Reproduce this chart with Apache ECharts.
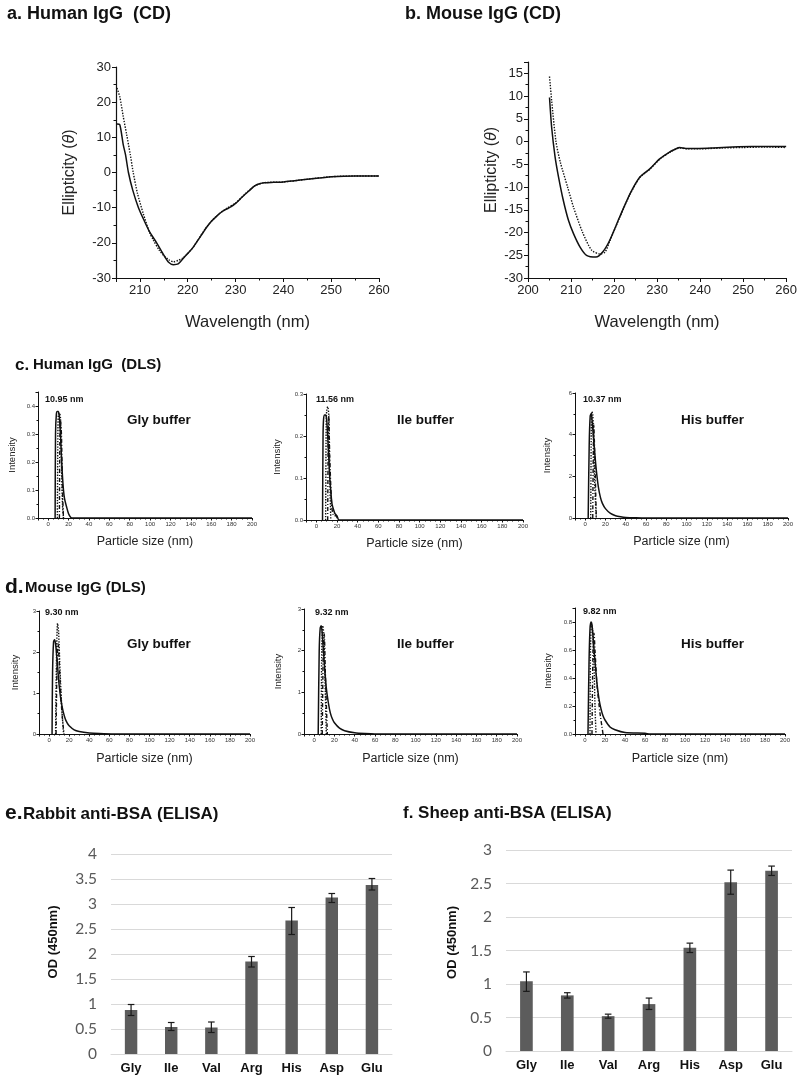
<!DOCTYPE html>
<html>
<head>
<meta charset="utf-8">
<script src="https://cdn.jsdelivr.net/npm/echarts@6/dist/echarts.min.js"></script>
<style>
html, body { margin: 0; background: #fff; }
#main { width: 800px; height: 1077px; }
</style>
</head>
<body>
<div id="main"></div>
<script>
// CD spectra: [wavelength nm, ellipticity]
var humanCdSolid = [[205.2,13.8],[205.8,13.6],[206.5,8],[207,5],[207.6,0],[208.5,-5],[209.7,-10],[211,-14],[212,-16.8],[213.5,-20],[215,-23.5],[216,-25.5],[217,-26.2],[218,-26],[219,-24.5],[220,-23],[221,-21.5],[222,-19.5],[223,-17.5],[224,-15.5],[225,-13.8],[226,-12.5],[227,-11.3],[228,-10.5],[229,-9.8],[230,-8.8],[231,-7.5],[232,-6.2],[233,-5],[234,-3.8],[235,-3.2],[236,-2.9],[238,-2.8],[240,-2.7],[242,-2.4],[245,-1.9],[248,-1.5],[250,-1.2],[255,-1.0],[260,-1.0]];
var humanCdDotted = [[205.2,24],[205.8,21.5],[206.5,16],[207.2,11],[208,5],[208.6,0],[209.5,-6],[210.7,-11.7],[212,-17],[212.8,-19.2],[214,-22],[214.9,-23.5],[216,-24.8],[217,-25.4],[218,-25],[219,-24.3],[220,-23],[221,-21.5],[222,-19.5],[224,-15.4],[226,-12.4],[228,-10.3],[230,-8.7],[232,-6.1],[234,-3.8],[236,-2.9],[240,-2.7],[245,-1.9],[250,-1.2],[255,-1.0],[260,-1.0]];
var mouseCdSolid = [[205,9.7],[205.5,3.1],[206.3,-3.4],[207.1,-7.8],[208.2,-12.9],[209.4,-17.3],[210.6,-20.3],[212.1,-23.2],[213.6,-25],[215.8,-25.4],[217.5,-24.1],[219,-21.7],[221.3,-16.6],[223.7,-11.5],[226,-7.8],[228.3,-6],[230.6,-3.8],[232.9,-2.3],[234.4,-1.6],[235.2,-1.3],[236.7,-1.5],[239.8,-1.5],[243,-1.4],[247.5,-1.2],[252,-1.1],[257.5,-1.1],[260,-1.1]];
var mouseCdDotted = [[205,14.3],[205.5,9],[206.5,0],[207.5,-4.5],[209.2,-10],[210.6,-14.5],[212.7,-20],[214.8,-23.9],[216.7,-24.7],[217.9,-24.3],[219,-21.9],[221.3,-16.7],[223.7,-11.6],[226,-7.9],[228.3,-6.1],[230.6,-3.9],[232.9,-2.4],[235.2,-1.4],[237,-1.6],[240,-1.6],[245,-1.4],[250,-1.3],[255,-1.2],[260,-1.3]];

// DLS size distributions: [particle size nm, intensity]
var humanGlySolid = [[6.8,0],[7.2,0.3],[8,0.37],[9,0.38],[10,0.38],[11,0.36],[12,0.3],[13,0.22],[14,0.15],[15,0.1],[16,0.07],[18,0.04],[20,0.015],[22,0.003],[24,0],[200,0]];
var humanGlyDotted = [[9,0],[9.5,0.3],[10,0.37],[11,0.375],[12,0.36],[13,0.2],[14,0.05],[15,0]];
var humanGlyDash = [[11,0],[11.5,0.3],[12,0.35],[13,0.3],[14,0.1],[15,0]];
var humanIleSolid = [[6,0],[6.5,0.2],[7,0.24],[8,0.25],[9,0.25],[10,0.24],[11,0.2],[12,0.15],[13,0.1],[14,0.07],[15,0.04],[16,0.03],[18,0.015],[20,0.01],[22,0],[200,0]];
var humanIleDotted = [[9,0],[9.5,0.22],[10,0.26],[11,0.27],[12,0.25],[13,0.1],[14,0]];
var humanIleDash = [[11,0],[11.5,0.2],[12,0.25],[13,0.15],[15,0.03],[17,0.01],[19,0.01],[21,0]];
var humanHisSolid = [[3,0],[4,3.5],[5,4.9],[6,5.0],[7,4.6],[9,3.4],[11,2.3],[13,1.5],[15,1.0],[17,0.7],[20,0.45],[25,0.22],[30,0.11],[35,0.06],[40,0.03],[50,0.01],[60,0],[200,0]];
var humanHisDotted = [[5.5,0],[6,4],[6.5,5.1],[7.5,5.0],[8.5,3.5],[9.5,1.5],[11,0]];
var humanHisDash = [[7.5,0],[8,3],[8.5,4.5],[9.5,3],[11,0]];
var mouseGlySolid = [[3,0],[3.5,1.5],[4.5,2.25],[5.5,2.3],[6.5,2.2],[8,1.8],[10,1.2],[12,0.8],[14,0.55],[16,0.38],[18,0.27],[20,0.2],[25,0.1],[30,0.06],[40,0.025],[50,0.01],[65,0],[200,0]];
var mouseGlyDotted = [[6.5,0],[7.5,2],[8.5,2.7],[9.5,2.5],[11,1.5],[13,0.5],[14.5,0]];
var mouseGlyDash = [[7,0],[8,1.8],[9,2.2],[10,1.8],[12,0.8],[14,0.2],[15,0]];
var mouseIleSolid = [[4,0],[5,2],[6,2.55],[7,2.6],[8,2.4],[10,1.7],[12,1.1],[14,0.75],[16,0.5],[18,0.36],[20,0.27],[25,0.14],[30,0.08],[40,0.03],[50,0.01],[60,0],[200,0]];
var mouseIleDotted = [[7,0],[7.5,2],[8.5,2.6],[9.5,2.4],[10.5,1.5],[12,0]];
var mouseIleDash = [[8,0],[9,2],[10,2.4],[11,1.5],[13,0]];
var mouseHisSolid = [[3,0],[4,0.5],[5,0.75],[6,0.8],[7,0.78],[8,0.7],[10,0.52],[12,0.36],[14,0.25],[16,0.18],[18,0.13],[20,0.1],[25,0.05],[30,0.03],[40,0.01],[60,0.005],[65,0],[200,0]];
var mouseHisDotted = [[5,0],[5.5,0.6],[6.5,0.78],[7.5,0.75],[9,0.5],[10,0.2],[11,0]];
var mouseHisDash = [[7,0],[8,0.6],[9,0.72],[10,0.6],[12,0.35],[15,0.15],[17,0.05],[18,0]];

// ELISA
var aminoAcids = ['Gly', 'Ile', 'Val', 'Arg', 'His', 'Asp', 'Glu'];
var rabbitOD = [0.88, 0.54, 0.53, 1.85, 2.67, 3.13, 3.38];
var rabbitLow = [0.77, 0.47, 0.43, 1.74, 2.39, 3.03, 3.28];
var rabbitHigh = [0.99, 0.63, 0.64, 1.95, 2.93, 3.21, 3.51];
var sheepOD = [1.04, 0.83, 0.52, 0.70, 1.54, 2.52, 2.69];
var sheepLow = [0.89, 0.79, 0.49, 0.62, 1.47, 2.34, 2.62];
var sheepHigh = [1.18, 0.87, 0.55, 0.79, 1.61, 2.70, 2.76];

var dlsSeries = [
    [humanGlySolid, humanGlyDotted, humanGlyDash],
    [humanIleSolid, humanIleDotted, humanIleDash],
    [humanHisSolid, humanHisDotted, humanHisDash],
    [mouseGlySolid, mouseGlyDotted, mouseGlyDash],
    [mouseIleSolid, mouseIleDotted, mouseIleDash],
    [mouseHisSolid, mouseHisDotted, mouseHisDash]
];

var FONT = '"Liberation Sans", Arial, sans-serif';
var INK = '#111';

var grids = [], xAxes = [], yAxes = [], series = [];

function lineSeries(idx, data, type) {
    series.push({
        type: 'line', xAxisIndex: idx, yAxisIndex: idx, data: data,
        showSymbol: false, smooth: 0.25, silent: true,
        lineStyle: { color: INK, width: type === 'solid' ? 1.5 : 1.4, type: type }
    });
}

// CD panels
function cdPanel(box, xOpt, yOpt, yGap) {
    var idx = grids.length;
    grids.push({ left: box[0], top: box[1], width: box[2], height: box[3] });
    xAxes.push(Object.assign({
        gridIndex: idx, type: 'value',
        name: 'Wavelength (nm)', nameLocation: 'middle', nameGap: 36,
        nameTextStyle: { fontSize: 16.5, color: '#222', fontFamily: FONT },
        axisLine: { onZero: false, lineStyle: { color: INK, width: 1.2 } },
        axisTick: { length: 4, lineStyle: { color: INK } },
        minorTick: { show: true, splitNumber: 2, length: 2.5, lineStyle: { color: INK } },
        axisLabel: { fontSize: 13, color: '#222', fontFamily: FONT, margin: 6 },
        splitLine: { show: false }
    }, xOpt));
    yAxes.push(Object.assign({
        gridIndex: idx, type: 'value',
        name: 'Ellipticity ({i|θ})', nameLocation: 'middle', nameGap: yGap,
        nameTextStyle: { fontSize: 16, color: '#222', fontFamily: FONT,
            rich: { i: { fontSize: 16, fontStyle: 'italic', color: '#222', fontFamily: FONT } } },
        axisLine: { show: true, onZero: false, lineStyle: { color: INK, width: 1.2 } },
        axisTick: { length: 4, lineStyle: { color: INK } },
        minorTick: { show: true, splitNumber: 2, length: 2.5, lineStyle: { color: INK } },
        axisLabel: { fontSize: 13, color: '#222', fontFamily: FONT, margin: 5 },
        splitLine: { show: false }
    }, yOpt));
    return idx;
}

var ia = cdPanel([116, 67, 263, 211],
    { min: 205, max: 260, splitNumber: 5, axisLabel: { fontSize: 13, color: '#222', fontFamily: FONT, margin: 6, showMinLabel: false } },
    { min: -30, max: 30, interval: 10 }, 38);
lineSeries(ia, humanCdSolid, 'solid');
lineSeries(ia, humanCdDotted, 'dotted');

var ib = cdPanel([528, 62, 259, 216],
    { min: 200, max: 260, interval: 10 },
    { min: -30, max: 17.5, interval: 5, axisLabel: { fontSize: 13, color: '#222', fontFamily: FONT, margin: 5, showMaxLabel: false } }, 28);
lineSeries(ib, mouseCdSolid, 'solid');
lineSeries(ib, mouseCdDotted, 'dotted');

// DLS panels
var dlsLayout = [
    { box: [38, 392, 214, 126], max: 0.45, step: 0.1, dec: 1, hideMax: true, gap: 21, nameGap: 17 },
    { box: [306, 394, 217, 126], max: 0.3, step: 0.1, dec: 1, hideMax: false, gap: 24, nameGap: 17 },
    { box: [575, 393, 213, 125], max: 6, step: 2, dec: 0, hideMax: false, gap: 23, nameGap: 17 },
    { box: [39, 611, 211, 123], max: 3, step: 1, dec: 0, hideMax: false, gap: 19, nameGap: 18 },
    { box: [304, 609, 213, 125], max: 3, step: 1, dec: 0, hideMax: false, gap: 21, nameGap: 18 },
    { box: [575, 608, 210, 126], max: 0.9, step: 0.2, dec: 1, hideMax: true, gap: 22, nameGap: 18 }
];
dlsLayout.forEach(function (p, k) {
    var idx = grids.length;
    grids.push({ left: p.box[0], top: p.box[1], width: p.box[2], height: p.box[3] });
    xAxes.push({
        gridIndex: idx, type: 'value', min: -10, max: 200, splitNumber: 10,
        name: 'Particle size (nm)', nameLocation: 'middle', nameGap: p.nameGap,
        nameTextStyle: { fontSize: 12.5, color: '#222', fontFamily: FONT },
        axisLine: { onZero: false, lineStyle: { color: INK, width: 1 } },
        axisTick: { length: 2.5, lineStyle: { color: INK } },
        minorTick: { show: true, splitNumber: 4, length: 1.5, lineStyle: { color: INK } },
        axisLabel: { fontSize: 6, color: '#333', fontFamily: FONT, margin: 3, showMinLabel: false },
        splitLine: { show: false }
    });
    yAxes.push({
        gridIndex: idx, type: 'value', min: 0, max: p.max, interval: p.step,
        name: 'Intensity', nameLocation: 'middle', nameGap: p.gap,
        nameTextStyle: { fontSize: 9.5, color: '#222', fontFamily: FONT },
        axisLine: { show: true, onZero: false, lineStyle: { color: INK, width: 1 } },
        axisTick: { length: 2.5, lineStyle: { color: INK } },
        minorTick: { show: true, splitNumber: 2, length: 1.5, lineStyle: { color: INK } },
        axisLabel: {
            fontSize: 6, color: '#333', fontFamily: FONT, margin: 3, showMaxLabel: !p.hideMax,
            formatter: (function (d) { return function (v) { return v.toFixed(d); }; })(p.dec)
        },
        splitLine: { show: false }
    });
    lineSeries(idx, dlsSeries[k][0], 'solid');
    lineSeries(idx, dlsSeries[k][1], 'dotted');
    lineSeries(idx, dlsSeries[k][2], [4, 2, 1, 2]);
});

// ELISA panels
function errorItem(params, api) {
    var lo = api.coord([api.value(0), api.value(1)]);
    var hi = api.coord([api.value(0), api.value(2)]);
    var w = 3.3;
    var st = { stroke: '#1a1a1a', lineWidth: 1.2 };
    return {
        type: 'group', children: [
            { type: 'line', shape: { x1: lo[0], y1: lo[1], x2: hi[0], y2: hi[1] }, style: st },
            { type: 'line', shape: { x1: lo[0] - w, y1: lo[1], x2: lo[0] + w, y2: lo[1] }, style: st },
            { type: 'line', shape: { x1: hi[0] - w, y1: hi[1], x2: hi[0] + w, y2: hi[1] }, style: st }
        ]
    };
}
function elisaPanel(box, max, values, low, high, gap, lift) {
    var idx = grids.length;
    grids.push({ left: box[0], top: box[1], width: box[2], height: box[3] });
    xAxes.push({
        gridIndex: idx, type: 'category', data: aminoAcids,
        axisLine: { lineStyle: { color: '#d9d9d9', width: 1 } },
        axisTick: { show: false },
        axisLabel: { fontSize: 13, fontWeight: 'bold', color: '#111', fontFamily: FONT, margin: 8 }
    });
    yAxes.push({
        gridIndex: idx, type: 'value', min: 0, max: max, interval: 0.5,
        name: 'OD (450nm)', nameLocation: 'middle', nameGap: gap,
        nameTextStyle: { fontSize: 13, fontWeight: 'bold', color: '#111', fontFamily: FONT, padding: [0, 0, 0, lift] },
        axisLine: { show: false }, axisTick: { show: false },
        axisLabel: { fontSize: 15.5, color: '#595959', fontFamily: 'Lato, "Open Sans", sans-serif', margin: 14 },
        splitLine: { lineStyle: { color: '#d9d9d9', width: 1 } }
    });
    series.push({
        type: 'bar', xAxisIndex: idx, yAxisIndex: idx, data: values,
        barWidth: '31%', itemStyle: { color: '#5c5c5c' }, silent: true
    });
    series.push({
        type: 'custom', xAxisIndex: idx, yAxisIndex: idx, silent: true,
        renderItem: errorItem, encode: { x: 0, y: [1, 2] },
        data: values.map(function (v, i) { return [i, low[i], high[i]]; }),
        z: 5
    });
}
elisaPanel([111, 854, 281, 200], 4, rabbitOD, rabbitLow, rabbitHigh, 51, 24);
elisaPanel([506, 850, 286, 201], 3, sheepOD, sheepLow, sheepHigh, 47, 16);

// headings and annotations
function label(text, x, y, size, extra) {
    return {
        type: 'text', x: x, y: y, silent: true,
        style: Object.assign({ text: text, font: 'bold ' + size + 'px ' + FONT, fill: '#111', verticalAlign: 'middle' }, extra || {})
    };
}
var graphics = [
    label('a. Human IgG  (CD)', 7, 14, 18),
    label('b. Mouse IgG (CD)', 405, 14, 18),
    label('c.', 15, 365, 17),
    label('Human IgG  (DLS)', 33, 365, 15),
    label('d.', 5, 587, 21),
    label('Mouse IgG (DLS)', 25, 588, 15),
    label('e.', 5, 813, 21),
    label('Rabbit anti-BSA (ELISA)', 23, 814, 17),
    label('f. Sheep anti-BSA (ELISA)', 403, 813, 17),
    label('10.95 nm', 45, 400, 9),
    label('11.56 nm', 316, 400, 9),
    label('10.37 nm', 583, 400, 9),
    label('9.30 nm', 45, 613, 9),
    label('9.32 nm', 315, 613, 9),
    label('9.82 nm', 583, 612, 9),
    label('Gly buffer', 127, 420, 13.5),
    label('Ile buffer', 397, 420, 13.5),
    label('His buffer', 681, 420, 13.5),
    label('Gly buffer', 127, 644, 13.5),
    label('Ile buffer', 397, 644, 13.5),
    label('His buffer', 681, 644, 13.5)
];

var myChart = echarts.init(document.getElementById('main'), null, { renderer: 'canvas' });
myChart.setOption({
    backgroundColor: '#fff',
    animation: false,
    grid: grids,
    xAxis: xAxes,
    yAxis: yAxes,
    series: series,
    graphic: graphics
});
</script>
</body>
</html>
